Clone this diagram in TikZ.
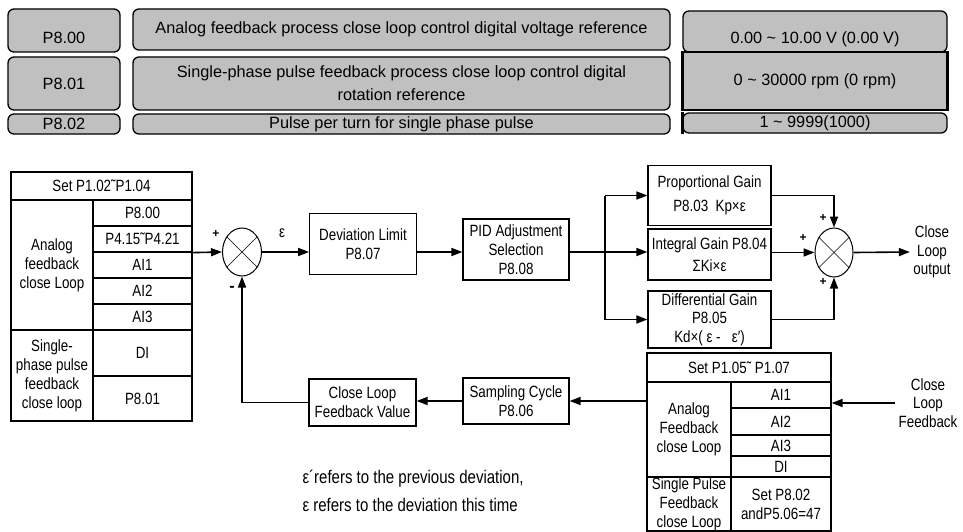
\documentclass[tikz,border=0pt]{standalone}
\usepackage{fontspec}
\setmainfont{Liberation Sans}
\newfontfamily\estrecha[FakeStretch=0.82]{Liberation Sans}
\usetikzlibrary{arrows.meta,shapes.geometric}
\definecolor{gris}{RGB}{192,192,192}

\begin{document}
\begin{tikzpicture}[
        x=1pt, y=-1pt,
        font=\estrecha\fontsize{16.3}{19}\selectfont,
        param/.style={draw=black, line width=1.3pt, fill=gris, rounded corners=6pt, align=center, inner sep=0pt, font=\rmfamily\fontsize{16.3}{23}\selectfont},
        celda/.style={draw=black, line width=1.2pt, align=center, inner sep=0pt},
        bloque/.style={draw=black, line width=1.2pt, align=center, inner sep=1pt},
        suma/.style={ellipse, draw=black, line width=1pt, minimum width=39pt, minimum height=48pt, inner sep=0pt},
        flecha/.style={line width=1.6pt, -{Triangle[length=11pt,width=8pt]}},
        linea/.style={line width=1.6pt},
        signo/.style={font=\bfseries\fontsize{12}{12}\selectfont, inner sep=0pt}
    ]
        \useasboundingbox (0,0) rectangle (963,532);

        % Tabla de parametros
        \node[param, minimum width=112pt, minimum height=43pt, text height=26pt] (p800) at (64,30.5) {P8.00};
        \node[param, minimum width=537pt, minimum height=41pt] (d800) at (401.5,29.5) {Analog feedback process close loop control digital voltage reference};
        \node[param, minimum width=264pt, minimum height=41pt, text height=28pt] (v800) at (815,31.5) {0.00 \textasciitilde{} 10.00 V (0.00 V)};

        \node[param, minimum width=112pt, minimum height=53pt] (p801) at (64,83.5) {P8.01};
        \node[param, minimum width=537pt, minimum height=53pt] (d801) at (401.5,83.5) {Single-phase pulse feedback process close loop control digital\\rotation reference};
        \node[param, rounded corners=0pt, minimum width=264pt, minimum height=58pt] (v801) at (815,81) {0 \textasciitilde{} 30000 rpm (0 rpm)};

        \node[param, minimum width=112pt, minimum height=20pt] (p802) at (64,124) {P8.02};
        \node[param, minimum width=537pt, minimum height=20pt] (d802) at (401.5,124) {Pulse per turn for single phase pulse};
        \node[param, minimum width=264pt, minimum height=20pt] (v802) at (815,123) {1 \textasciitilde{} 9999(1000)};

        \draw[line width=3pt] (v801.north west) -- (v801.south west);
        \draw[line width=3pt] (v801.north east) -- (v801.south east);
        \draw[line width=3pt] (v802.north west) -- (v802.south west);

        % Tabla de referencia
        \node[celda, minimum width=181pt, minimum height=28pt] (setA) at (101.5,186) {Set P1.02˜P1.04};
        \node[celda, minimum width=99pt, minimum height=26pt] (r800) at (142.5,213) {P8.00};
        \node[celda, minimum width=99pt, minimum height=26pt] (r415) at (142.5,239) {P4.15˜P4.21};
        \node[celda, minimum width=99pt, minimum height=26pt] (rai1) at (142.5,265) {AI1};
        \node[celda, minimum width=99pt, minimum height=26pt] (rai2) at (142.5,291) {AI2};
        \node[celda, minimum width=99pt, minimum height=26pt] (rai3) at (142.5,317) {AI3};
        \node[celda, minimum width=99pt, minimum height=46pt] (rdi) at (142.5,353) {DI};
        \node[celda, minimum width=99pt, minimum height=45pt] (r801) at (142.5,398.5) {P8.01};
        \node[celda, minimum width=82pt, minimum height=130pt] (ranalog) at (52,265) {Analog\\feedback\\close Loop};
        \node[celda, minimum width=82pt, minimum height=91pt] (rpulso) at (52,375.5) {Single-\\phase pulse\\feedback\\close loop};

        % Lazo principal
        \node[suma] (suma1) at (242,252) {};
        \draw (suma1.135) -- (suma1.-45);
        \draw (suma1.45) -- (suma1.-135);
        \node[signo] (mas1) at (216,234) {+};
        \node[signo, font=\bfseries\fontsize{16}{16}\selectfont] (menos1) at (232,289) {-};
        \node (eps) at (282,233) {ε};

        \node[bloque, minimum width=106.5pt, minimum height=61pt] (desv) at (363,244) {Deviation Limit\\P8.07};
        \node[bloque, minimum width=106pt, minimum height=61pt] (pid) at (516,249.5) {PID Adjustment\\Selection\\P8.08};
        \coordinate (rama) at (605,252);

        \node[bloque, minimum width=123pt, minimum height=60pt, font=\estrecha\fontsize{16.3}{24}\selectfont] (gp) at (709.5,195.5) {Proportional Gain\\P8.03~~Kp×ε};
        \node[bloque, minimum width=123pt, minimum height=51pt, font=\estrecha\fontsize{16.3}{22}\selectfont] (gi) at (709.5,254.5) {Integral Gain P8.04\\ΣKi×ε};
        \node[bloque, minimum width=123pt, minimum height=57pt, font=\estrecha\fontsize{16.3}{18.5}\selectfont] (gd) at (709.5,319.5) {Differential Gain\\P8.05\\Kd×( ε -~~ ε′)};

        \node[suma, minimum width=38pt, minimum height=49pt] (suma2) at (834,252.5) {};
        \draw (suma2.135) -- (suma2.-45);
        \draw (suma2.45) -- (suma2.-135);
        \node[signo] (mas2) at (823,218) {+};
        \node[signo] (mas3) at (803,238) {+};
        \node[signo] (mas4) at (823,282) {+};
        \node[align=center, font=\estrecha\fontsize{16.3}{18.5}\selectfont] (salida) at (932,252) {Close\\Loop\\output};

        % Tabla de realimentacion
        \node[celda, minimum width=184pt, minimum height=29pt] (setB) at (739,367.5) {Set P1.05˜ P1.07};
        \node[celda, minimum width=100pt, minimum height=26pt] (fai1) at (781,395) {AI1};
        \node[celda, minimum width=100pt, minimum height=27pt] (fai2) at (781,421.5) {AI2};
        \node[celda, minimum width=100pt, minimum height=21pt] (fai3) at (781,445.5) {AI3};
        \node[celda, minimum width=100pt, minimum height=21pt] (fdi) at (781,466.5) {DI};
        \node[celda, minimum width=100pt, minimum height=54pt] (fset) at (781,504) {Set P8.02\\andP5.06=47};
        \node[celda, minimum width=84pt, minimum height=95pt] (fanalog) at (689,429.5) {Analog\\Feedback\\close Loop};
        \node[celda, minimum width=84pt, minimum height=54pt] (fpulso) at (689,504) {Single Pulse\\Feedback\\close Loop};
        \node[align=center, font=\estrecha\fontsize{16.3}{18.5}\selectfont] (retro) at (928,403) {Close\\Loop\\Feedback};

        \node[bloque, minimum width=106pt, minimum height=46pt] (muestreo) at (516,401) {Sampling Cycle\\P8.06};
        \node[bloque, minimum width=107pt, minimum height=47pt] (valor) at (362.5,402.5) {Close Loop\\Feedback Value};

        \node[align=left, anchor=west, font=\estrecha\fontsize{18.3}{28.5}\selectfont] (nota) at (299,491) {ε´refers to the previous deviation,\\ε refers to the deviation this time};

        % Flechas
        \draw[flecha] (r415.south east) -- (suma1.west);
        \draw[flecha] (suma1.east) -- (suma1.east -| desv.west);
        \draw[flecha] (desv.east |- suma1) -- (pid.west |- suma1);
        \draw[linea] (pid.east |- suma1) -- (rama);
        \draw[linea] (rama |- gp.west) -- (rama |- gd.west);
        \draw[flecha] (rama |- gp.west) -- (gp.west);
        \draw[flecha] (rama) -- (gi.west |- rama);
        \draw[flecha] (rama |- gd.west) -- (gd.west);
        \draw[flecha] (gp.east) -| (suma2.north);
        \draw[flecha] (gi.east |- suma2) -- (suma2.west);
        \draw[flecha] (gd.east) -| (suma2.south);
        \draw[flecha] (suma2.east) -- (salida.west);
        \draw[flecha] (retro.west) -- (retro.west -| fai1.east);
        \draw[flecha] (fanalog.west |- muestreo) -- (muestreo.east);
        \draw[flecha] (muestreo.west) -- (muestreo.west -| valor.east);
        \draw[flecha] (valor.west) -| (suma1.south);
    \end{tikzpicture}
\end{document}
